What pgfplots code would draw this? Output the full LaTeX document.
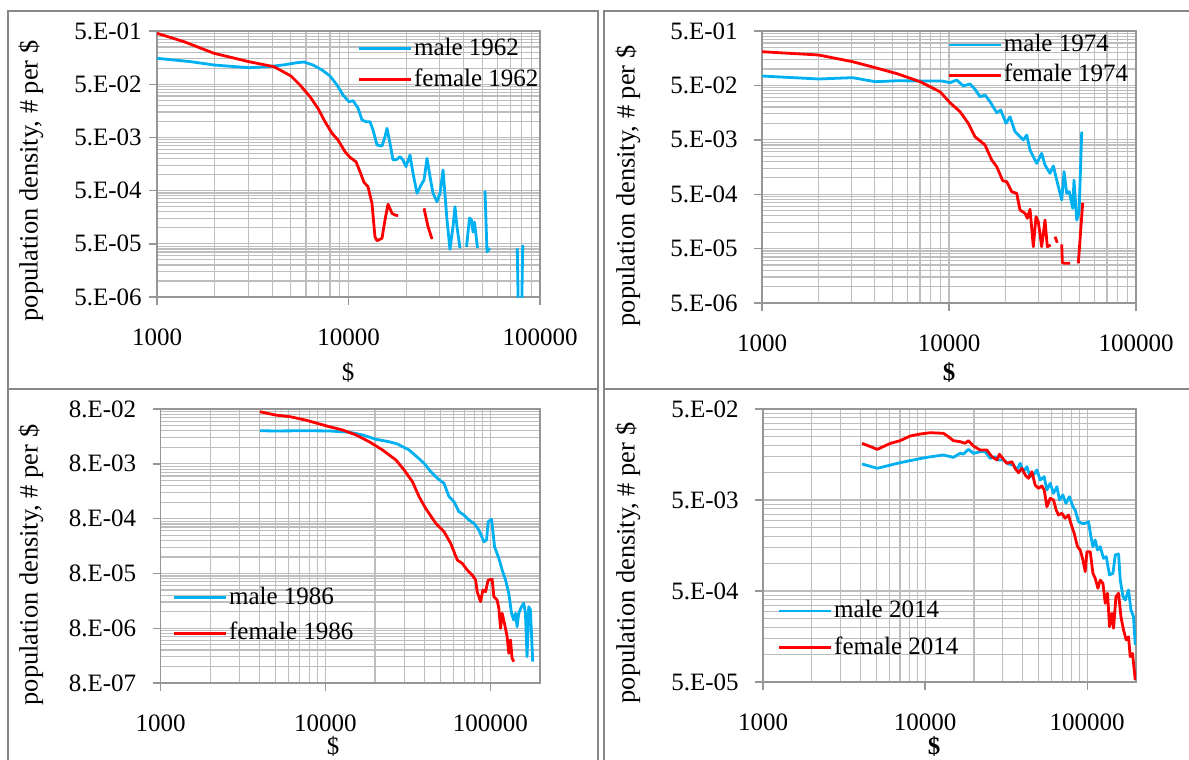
\documentclass[border=0pt]{standalone}
\usepackage{pgfplots}
\pgfplotsset{compat=1.18}
\usepackage{fontspec}
\setmainfont{Liberation Serif}
\definecolor{mblue}{RGB}{0,176,240}
\definecolor{mred}{RGB}{255,0,0}
\definecolor{gridc}{RGB}{190,190,190}
\definecolor{axisc}{RGB}{150,150,150}
\definecolor{framec}{RGB}{135,135,135}
\newcommand{\lblfont}{\fontsize{12.5}{15}\selectfont}
\newcommand{\ylblfont}{\fontsize{13.2}{15}\selectfont}
\pgfplotsset{
  every axis/.append style={
    scale only axis,
    xmode=log, ymode=log,
    grid=both,
    major grid style={gridc, line width=0.6pt},
    minor grid style={gridc, line width=0.6pt},
    axis line style={axisc, line width=0.7pt},
    tick style={axisc, line width=0.7pt},
    major tick length=4pt,
    minor tick length=0pt,
    tick align=outside,
    xtick pos=bottom, ytick pos=left,
    tick label style={font=\lblfont},
    xticklabel style={anchor=center, inner sep=0pt, yshift=-16pt},
    yticklabel style={anchor=east, inner sep=0pt},
    unbounded coords=jump,
    legend cell align=left,
    legend image code/.code={\draw[##1] (0pt,0pt) -- (26pt,0pt);},
    legend style={draw=none, fill=none, inner sep=0pt, font=\lblfont,
      nodes={inner sep=1pt, text height=9pt, text depth=2.5pt}},
    xtick={1000,10000,100000}, xticklabels={1000,10000,100000},
    minor xtick={2000,3000,4000,5000,6000,7000,8000,9000,20000,30000,40000,50000,60000,70000,80000,90000},
  },
  every axis plot/.append style={line width=1.4pt, line join=round},
}
\begin{document}
\begin{tikzpicture}[x=0.5pt,y=-0.5pt]
% ---------------- 1962 ----------------
\begin{axis}[at={(78.5pt,-148.5pt)}, anchor=south west,
  width=191.5pt, height=133pt, yticklabel shift=3.5pt,
  xmin=1000, xmax=100000, ymin=5e-6, ymax=0.5,
  ytick={5e-6,5e-5,5e-4,5e-3,5e-2,5e-1},
  yticklabels={5.E-06,5.E-05,5.E-04,5.E-03,5.E-02,5.E-01},
  minor ytick={1e-5,1.5e-5,2e-5,2.5e-5,3e-5,3.5e-5,4e-5,4.5e-5,
      1e-4,1.5e-4,2e-4,2.5e-4,3e-4,3.5e-4,4e-4,4.5e-4,
      1e-3,1.5e-3,2e-3,2.5e-3,3e-3,3.5e-3,4e-3,4.5e-3,
      1e-2,1.5e-2,2e-2,2.5e-2,3e-2,3.5e-2,4e-2,4.5e-2,
      0.1,0.15,0.2,0.25,0.3,0.35,0.4,0.45},
  legend style={at={(0.522,0.985)}, anchor=north west, row sep=2pt}]
\addplot[mblue] coordinates {
(1000,0.1535)(1505,0.1324)(1985,0.1148)(3022,0.1021)(3798,0.1067)(4550,0.1148)
(5383,0.1268)(5856,0.1306)(6525,0.1148)(7271,0.0925)(8006,0.0713)(8710,0.0483)
(9362,0.0313)(10061,0.0234)(10556,0.0245)(11210,0.01786)(11765,0.01062)(12342,0.00986)
(12952,0.00986)(13428,0.00689)(14087,0.0036)(14958,0.00344)(15509,0.00515)(15885,0.00741)
(16470,0.00387)(17075,0.00188)(17920,0.00194)(18575,0.00217)(19258,0.00188)(19966,0.00141)
(20951,0.00233)(21723,0.001057)(22795,0.000445)(23914,0.000637)(24796,0.000791)(25703,0.00202)
(26651,0.000912)(27631,0.000445)(28980,0.000309)(30054,0.000445)(31158,0.00122)(32689,0.00014)
(33884,3.94e-5)(35130,1.047e-4)(35985,2.49e-4)(36862,1.047e-4)(38213,4.11e-5)
(40000,nan)
(41330,4.36e-5)(42850,1.53e-4)(43880,1.40e-4)(44690,8.3e-5)(45500,1.28e-4)(47170,4.17e-5)
(49000,nan)
(51620,4.98e-4)(52870,3.55e-5)(54830,4.11e-5)
(60000,nan)
(76110,4.11e-5)(77410,1e-6)(79880,1e-6)(81230,4.75e-5)
};
\addlegendentry{male 1962}
\addplot[mred] coordinates {
(1000,0.453)(1384,0.315)(1985,0.1905)(3022,0.1324)(4083,0.1067)(5008,0.0713)
(5581,0.0483)(6295,0.0291)(6929,0.0176)(7540,0.00986)(8201,0.00597)(8815,0.00447)
(9588,0.00269)(10181,0.00211)(10944,0.001746)(11482,0.001133)(12046,0.000716)(12638,0.000592)
(13259,0.000289)(13746,6.8e-5)(14087,5.72e-5)(14958,6.34e-5)(15509,1.40e-4)(16080,2.77e-4)
(16873,1.87e-4)(17492,1.74e-4)(18135,1.69e-4)
(20000,nan)
(24796,2.32e-4)(26015,1.05e-4)(27290,6.15e-5)
};
\addlegendentry{female 1962}
\end{axis}
% ---------------- 1974 ----------------
\begin{axis}[at={(381pt,-151.5pt)}, anchor=south west,
  width=187pt, height=136pt, yticklabel shift=8pt,
  xmin=1000, xmax=100000, ymin=5e-6, ymax=0.5,
  ytick={5e-6,5e-5,5e-4,5e-3,5e-2,5e-1},
  yticklabels={5.E-06,5.E-05,5.E-04,5.E-03,5.E-02,5.E-01},
  minor ytick={1e-5,1.5e-5,2e-5,2.5e-5,3e-5,3.5e-5,4e-5,4.5e-5,
      1e-4,1.5e-4,2e-4,2.5e-4,3e-4,3.5e-4,4e-4,4.5e-4,
      1e-3,1.5e-3,2e-3,2.5e-3,3e-3,3.5e-3,4e-3,4.5e-3,
      1e-2,1.5e-2,2e-2,2.5e-2,3e-2,3.5e-2,4e-2,4.5e-2,
      0.1,0.15,0.2,0.25,0.3,0.35,0.4,0.45},
  legend style={at={(0.494,1.0)}, anchor=north west, row sep=1.7pt}]
\addplot[mblue] coordinates {
(1000,0.0744)(2005,0.0656)(3051,0.0694)(4036,0.0585)(5337,0.061)(7000,0.0600)(9141,0.0603)
(10122,0.0561)(10996,0.0628)(11929,0.0488)(12953,0.0531)(13772,0.0424)(14646,0.031)
(15577,0.0333)(16570,0.0251)(17996,0.01574)(18904,0.01765)(20177,0.01005)(21199,0.0133)
(22540,0.00705)(24960,0.00496)(26030,0.00612)(27120,0.00324)(29440,0.00185)(31300,0.00282)
(32610,0.00172)(34690,0.00121)(36130,0.00165)(37660,0.000912)(40060,0.000391)(41210,0.0013)
(42600,0.00052)(43990,0.000556)(45870,0.000275)(46610,0.000912)(48190,0.000168)(49580,0.000223)
(51250,0.00705)
};
\addlegendentry{male 1974}
\addplot[mred] coordinates {
(1000,0.208)(2005,0.1812)(3051,0.1364)(4036,0.1058)(5337,0.0811)(6998,0.0585)
(8952,0.0383)(10122,0.02405)(11451,0.01643)(12683,0.01005)(13772,0.0057)(15577,0.00401)
(16918,0.00213)(17996,0.0016)(19376,0.000886)(20348,0.000849)(21646,0.000556)(23010,0.000519)
(23970,0.000256)(25500,0.000223)(26230,0.00018)(27120,0.000264)(28240,5.42e-5)(29190,0.000193)
(30030,0.000156)(31300,5.42e-5)(32610,0.000168)(33550,5.42e-5)(34990,5.82e-5)
(36000,nan)
(36880,8.28e-5)(37940,6.41e-5)
(39000,nan)
(40060,6.0e-5)(40360,2.75e-5)(41710,2.68e-5)(44360,2.68e-5)
(46000,nan)
(49140,2.68e-5)(51880,0.000349)
};
\addlegendentry{female 1974}
\end{axis}
% ---------------- 1986 ----------------
\begin{axis}[at={(80.25pt,-341.5pt)}, anchor=south west,
  width=189.75pt, height=137pt, yticklabel shift=8pt,
  xmin=1000, xmax=200000, ymin=8e-7, ymax=8e-2,
  ytick={8e-7,8e-6,8e-5,8e-4,8e-3,8e-2},
  yticklabels={8.E-07,8.E-06,8.E-05,8.E-04,8.E-03,8.E-02},
  minor ytick={1.6e-6,2.4e-6,3.2e-6,4e-6,4.8e-6,5.6e-6,6.4e-6,7.2e-6,
    1.6e-5,2.4e-5,3.2e-5,4e-5,4.8e-5,5.6e-5,6.4e-5,7.2e-5,
    1.6e-4,2.4e-4,3.2e-4,4e-4,4.8e-4,5.6e-4,6.4e-4,7.2e-4,
    1.6e-3,2.4e-3,3.2e-3,4e-3,4.8e-3,5.6e-3,6.4e-3,7.2e-3,
    1.6e-2,2.4e-2,3.2e-2,4e-2,4.8e-2,5.6e-2,6.4e-2,7.2e-2},
  legend style={at={(0.03,0.362)}, anchor=north west, row sep=4.3pt}]
\addplot[mblue] coordinates {
(4003,0.0321)(4953,0.0318)(7574,0.0321)(10573,0.0318)(13964,0.0301)(16805,0.0269)
(20245,0.0224)(24364,0.0202)(27349,0.01837)(32179,0.01429)(36121,0.01052)(39648,0.00817)
(43517,0.00574)(47707,0.00435)(52360,0.00352)(56137,0.00201)(60175,0.001626)(64516,0.001069)
(69169,0.000931)(74156,0.000754)(79502,0.000656)(85231,0.000495)(91377,0.000303)(94840,0.000325)
(96980,0.000702)(101690,0.000776)(106030,0.000245)(112560,0.000151)(117850,9.23e-5)(123570,6.07e-5)
(129350,3.47e-5)(134300,1.50e-5)(138680,1.13e-5)(142000,1.50e-5)(145210,8.5e-6)(148660,1.50e-5)
(154350,1.97e-5)(159360,2.28e-5)(163190,1.50e-5)(166880,2.42e-6)(170850,1.97e-5)(174950,1.72e-5)
(180640,1.96e-6)
};
\addlegendentry{male 1986}
\addplot[mred] coordinates {
(4003,0.0714)(4953,0.0622)(6128,0.0578)(7574,0.0503)(10573,0.038)(12721,0.0331)
(15325,0.0269)(18446,0.0202)(22200,0.01429)(26740,0.0094)(30020,0.00617)(33690,0.00377)
(36980,0.00201)(40600,0.00122)(46660,0.000656)(52360,0.000461)(57470,0.000283)(63020,0.00014)
(67550,0.000122)(72410,9.23e-5)(77620,7.48e-5)(81400,6.07e-5)(83230,3.71e-5)(87270,2.44e-5)
(90100,3.98e-5)(93540,3.71e-5)(96980,6.07e-5)(102540,6.24e-5)(105000,3.01e-5)(109910,2.61e-5)
(112560,1.84e-5)(115250,7.96e-6)(117850,1.50e-5)(122370,9.14e-6)(126360,5.6e-6)(129350,2.79e-6)
(132460,4.88e-6)(135420,2.26e-6)(138680,1.96e-6)
};
\addlegendentry{female 1986}
\end{axis}
% ---------------- 2014 ----------------
\begin{axis}[at={(381.5pt,-341pt)}, anchor=south west,
  width=186.5pt, height=136.5pt, yticklabel shift=8pt,
  xmin=1000, xmax=200000, ymin=5e-5, ymax=5e-2,
  ytick={5e-5,5e-4,5e-3,5e-2},
  yticklabels={5.E-05,5.E-04,5.E-03,5.E-02},
  minor ytick={1e-4,1.5e-4,2e-4,2.5e-4,3e-4,3.5e-4,4e-4,4.5e-4,
    1e-3,1.5e-3,2e-3,2.5e-3,3e-3,3.5e-3,4e-3,4.5e-3,
    1e-2,1.5e-2,2e-2,2.5e-2,3e-2,3.5e-2,4e-2,4.5e-2},
  legend style={at={(0.0375,0.311)}, anchor=north west, row sep=4.8pt}]
\addplot[mblue] coordinates {
(4084,0.01244)(5069,0.01115)(6124,0.01213)(7009,0.01286)(8469,0.01377)(10245,0.01473)
(12970,0.01562)(14950,0.01473)(16444,0.01629)(17234,0.016)(18510,0.01803)(19870,0.01629)
(21853,0.01698)(23460,0.01698)(25190,0.01436)(27050,0.01495)(28350,0.01377)(30430,0.01377)
(32680,0.01244)(35090,0.01213)(36810,0.0107)(38590,0.01265)(40450,0.01023)(42440,0.01161)
(44480,0.00902)(46620,0.00942)(48920,0.0107)(51270,0.0083)(54280,0.00902)(56390,0.00644)
(59100,0.00764)(61940,0.00593)(65010,0.007)(67450,0.005)(70790,0.00568)(73870,0.0046)
(77730,0.00543)(81610,0.00422)(84340,0.00388)(88390,0.00289)(92750,0.00277)(97200,0.00277)
(101860,0.00289)(105400,0.00198)(108440,0.001535)(112000,0.001816)(115760,0.001412)(120270,0.001535)
(126070,0.001143)(131020,0.001191)(137310,0.00075)(144100,0.000783)(148890,0.001245)(156080,0.001277)
(159900,0.00066)(166170,0.000433)(171700,0.000398)(179840,0.000513)(186130,0.000309)(193140,0.000261)
(197870,0.000128)
};
\addlegendentry{male 2014}
\addplot[mred] coordinates {
(4084,0.021)(5069,0.01803)(6124,0.021)(7009,0.02244)(8081,0.02524)(9314,0.02655)
(10737,0.02746)(12970,0.02704)(13925,0.02483)(14950,0.02244)(16444,0.02188)(17659,0.021)
(18510,0.02244)(19870,0.0196)(21853,0.0177)(24040,0.0177)(25810,0.01495)(27710,0.01377)
(28740,0.01589)(30430,0.014)(31940,0.01265)(34300,0.01318)(35940,0.01115)(37660,0.00997)
(39540,0.01115)(41430,0.00942)(43410,0.00866)(45560,0.01023)(47750,0.00731)(50040,0.00673)
(52530,0.00713)(54280,0.00644)(56390,0.00422)(59100,0.00522)(61940,0.005)(64370,0.00388)
(66510,0.00342)(69810,0.00357)(73140,0.00315)(76650,0.00342)(79310,0.00277)(83130,0.00215)
(87130,0.001535)(90530,0.001412)(94080,0.001096)(97200,0.000815)(99570,0.001352)(104350,0.001352)
(108440,0.000783)(112000,0.00069)(116460,0.000536)(120270,0.00066)(125010,0.000608)(129170,0.000366)
(133460,0.000472)(137310,0.000203)(142090,0.000284)(145340,0.000195)(150400,0.000433)(156080,0.000472)
(161440,0.000261)(167530,0.000186)(174060,0.000145)(179840,0.000157)(184240,9.5e-5)(190360,0.000103)
(193140,8.0e-5)(197870,5.26e-5)
};
\addlegendentry{female 2014}
\end{axis}
% ---------------- labels ----------------
\node[rotate=90, font=\ylblfont] at (31,181) {population density, \# per \$};
\node[rotate=90, font=\ylblfont] at (628,186) {population density, \# per \$};
\node[rotate=90, font=\ylblfont] at (31,565) {population density, \# per \$};
\node[rotate=90, font=\ylblfont] at (628,563) {population density, \# per \$};
\node[font=\lblfont] at (348,372) {\$};
\node[font=\lblfont\bfseries] at (949,372) {\$};
\node[font=\lblfont] at (333,746) {\$};
\node[font=\lblfont\bfseries] at (934,746) {\$};
% ---------------- panel frames ----------------
\draw[framec, line width=1.2pt] (8,760) -- (8,11) -- (598,11) -- (598,760);
\draw[framec, line width=1.2pt] (604,760) -- (604,11) -- (1189,11);
\draw[framec, line width=1.2pt] (8,389) -- (598,389);
\draw[framec, line width=1.2pt] (604,389) -- (1189,389);
\pgfresetboundingbox
\path[use as bounding box] (0,0) rectangle (1189,760);
\end{tikzpicture}
\end{document}
